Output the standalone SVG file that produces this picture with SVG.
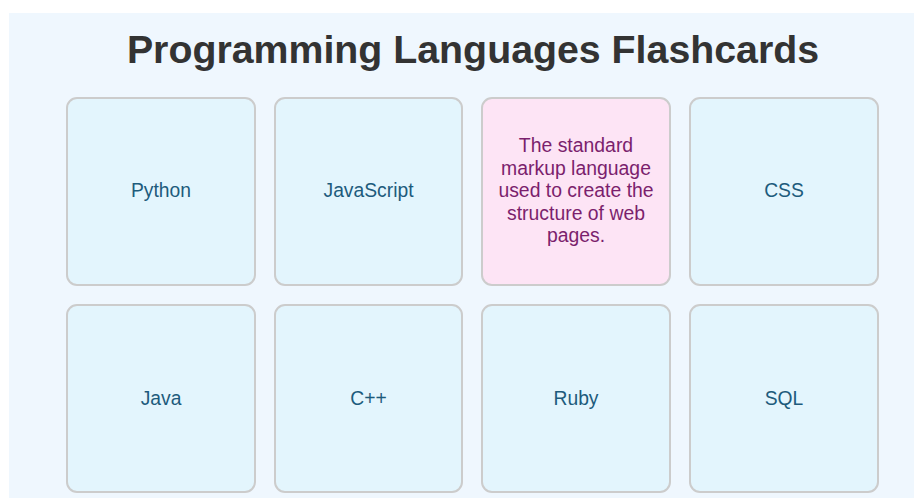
<svg xmlns="http://www.w3.org/2000/svg" width="914" height="498" viewBox="0 0 914 498">
<style>
.card{fill:#e3f5fd;stroke:#cccccc;stroke-width:2}
.flip{fill:#fde4f5;stroke:#cccccc;stroke-width:2}
.lbl{font-family:"Liberation Sans",Arial,sans-serif;font-size:19.3px;fill:#1d5b7c;text-anchor:middle}
.def{font-family:"Liberation Sans",Arial,sans-serif;font-size:19.4px;fill:#7b1f6d;text-anchor:middle}
.title{font-family:"Liberation Sans",Arial,sans-serif;font-size:39.3px;font-weight:bold;fill:#333333;text-anchor:middle}
</style>
<rect x="0" y="0" width="914" height="498" fill="#ffffff"/>
<rect x="9" y="13" width="905" height="485" fill="#eff7fe"/>
<text class="title" x="473" y="63">Programming Languages Flashcards</text>
<g id="card-python"><rect class="card" x="67" y="98" width="188" height="187" rx="10"/><text class="lbl" x="161" y="197">Python</text></g>
<g id="card-javascript"><rect class="card" x="275" y="98" width="187" height="187" rx="10"/><text class="lbl" x="368.5" y="197">JavaScript</text></g>
<g id="card-html"><rect class="flip" x="482" y="98" width="188" height="187" rx="10"/>
<text class="def" x="576" y="152">The standard</text>
<text class="def" x="576" y="174.5">markup language</text>
<text class="def" x="576" y="197">used to create the</text>
<text class="def" x="576" y="219.5">structure of web</text>
<text class="def" x="576" y="242">pages.</text></g>
<g id="card-css"><rect class="card" x="690" y="98" width="188" height="187" rx="10"/><text class="lbl" x="784" y="197">CSS</text></g>
<g id="card-java"><rect class="card" x="67" y="305" width="188" height="187" rx="10"/><text class="lbl" x="161" y="405">Java</text></g>
<g id="card-cpp"><rect class="card" x="275" y="305" width="187" height="187" rx="10"/><text class="lbl" x="368.5" y="405">C++</text></g>
<g id="card-ruby"><rect class="card" x="482" y="305" width="188" height="187" rx="10"/><text class="lbl" x="576" y="405">Ruby</text></g>
<g id="card-sql"><rect class="card" x="690" y="305" width="188" height="187" rx="10"/><text class="lbl" x="784" y="405">SQL</text></g>
<g id="connectors"></g>
</svg>
